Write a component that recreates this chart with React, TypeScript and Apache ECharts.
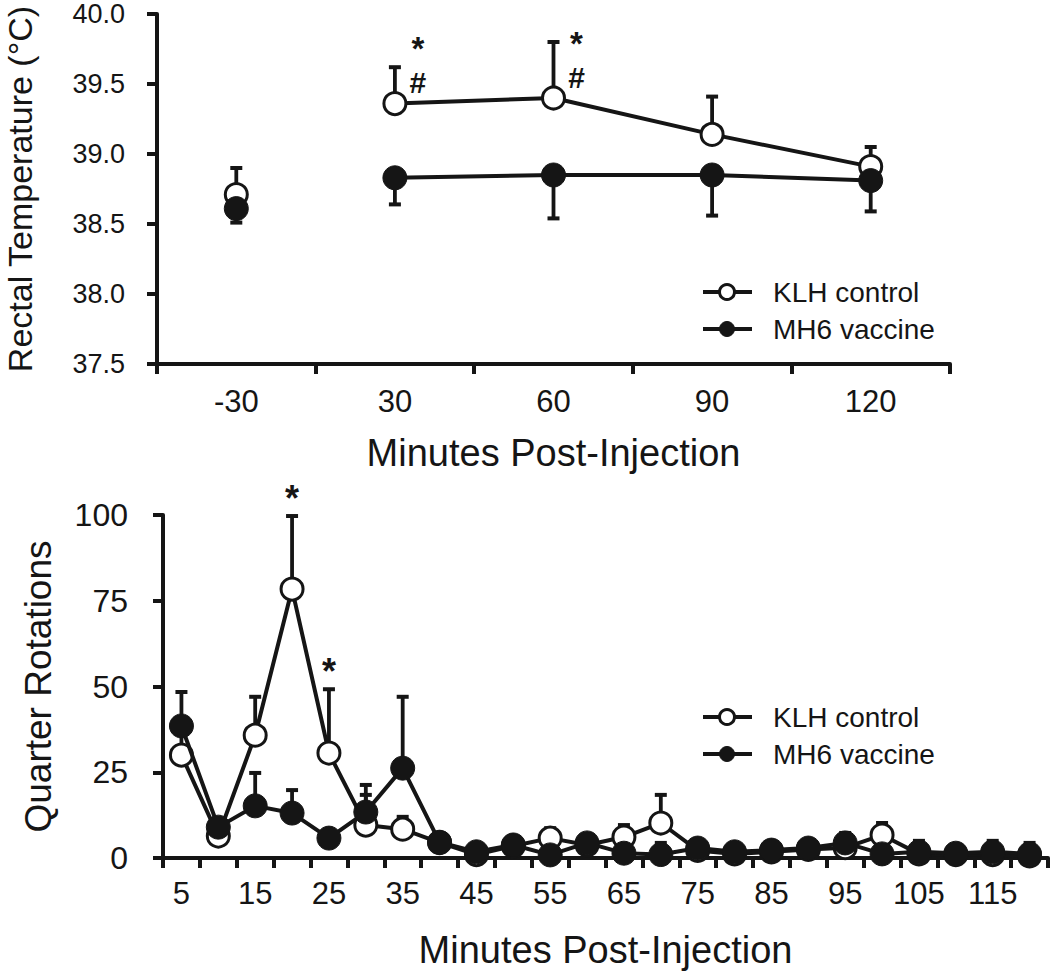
import React, { useEffect, useRef } from "react";
import * as echarts from "echarts";

// ---------- Top panel: rectal temperature ----------
const tempCategories = ["-30", "30", "60", "90", "120"];
const klhTemp = [38.71, 39.36, 39.4, 39.14, 38.91];
const klhTempErr = [0.19, 0.26, 0.4, 0.27, 0.14];
const mh6Temp = [38.61, 38.83, 38.85, 38.85, 38.81];
const mh6TempErr = [0.1, 0.19, 0.31, 0.29, 0.22];
const tempBaselineCats = ["-30"]; // pre-injection point, not joined to the line
const tempSigCats = ["30", "60"]; // "*" and "#"

// ---------- Bottom panel: quarter rotations ----------
const rotCategories = [
  "5", "10", "15", "20", "25", "30", "35", "40", "45", "50", "55", "60",
  "65", "70", "75", "80", "85", "90", "95", "100", "105", "110", "115", "120",
];
const klhRot = [30, 6.4, 35.8, 78.4, 30.6, 9.6, 8.4, 4.5, 1.0, 3.5, 5.8, 3.8, 6.1, 10.2, 2.2, 1.2, 1.8, 2.5, 3.0, 6.7, 1.2, 1.0, 1.0, 0.6];
const klhRotErr = [8, 2, 11.2, 21.3, 18.6, 8.8, 3.6, 1.5, 1, 1, 2.9, 1.5, 3.5, 8.2, 1, 1, 1, 1, 1.5, 3.5, 1, 1, 1, 1];
const mh6Rot = [38.5, 9.0, 15.2, 13.1, 5.8, 13.4, 26.2, 4.6, 1.8, 3.8, 0.9, 4.4, 1.4, 1.0, 2.9, 1.8, 2.3, 2.9, 4.4, 1.2, 1.8, 1.4, 1.8, 1.2];
const mh6RotErr = [9.9, 1.5, 9.6, 6.7, 1.5, 7.9, 20.8, 1.5, 1, 1.5, 1, 1.5, 1.5, 3.4, 1.5, 1, 1, 1.5, 2.9, 2.8, 3.2, 2, 3.2, 3.2];
const rotSigCats = ["20", "25"]; // "*"

const legendNames = ["KLH control", "MH6 vaccine"];

const FONT = "Liberation Sans, Arial, Helvetica, sans-serif";
const INK = "#151515";

function errorBarSeries(xIdx: number, data: number[][], z: number) {
  return {
    type: "custom",
    xAxisIndex: xIdx,
    yAxisIndex: xIdx,
    z,
    silent: true,
    data,
    renderItem: (params: any, api: any) => {
      const c = api.value(0);
      const v = api.value(1);
      const e = api.value(2);
      const dir = api.value(3);
      const p0 = api.coord([c, v]);
      const p1 = api.coord([c, v + dir * e]);
      return {
        type: "group",
        children: [
          {
            type: "line",
            shape: { x1: p0[0], y1: p0[1], x2: p1[0], y2: p1[1] },
            style: { stroke: INK, lineWidth: 3.8 },
          },
          {
            type: "line",
            shape: { x1: p1[0] - 6, y1: p1[1], x2: p1[0] + 6, y2: p1[1] },
            style: { stroke: INK, lineWidth: 4 },
          },
        ],
      };
    },
  };
}

function markerStyle(open: boolean) {
  return open
    ? { color: "#ffffff", borderColor: INK, borderWidth: 3, opacity: 1 }
    : { color: INK, borderColor: INK, borderWidth: 1, opacity: 1 };
}

function lineSeries(name: string, xIdx: number, data: any[], open: boolean, z: number) {
  return {
    name,
    type: "line",
    xAxisIndex: xIdx,
    yAxisIndex: xIdx,
    data,
    z,
    symbol: "circle",
    symbolSize: open ? 22 : 24,
    connectNulls: false,
    lineStyle: { color: INK, width: 4 },
    itemStyle: markerStyle(open),
    emphasis: { disabled: true },
  };
}

function pointSeries(name: string, xIdx: number, data: any[], open: boolean, z: number) {
  return {
    name,
    type: "scatter",
    xAxisIndex: xIdx,
    yAxisIndex: xIdx,
    data,
    z,
    symbol: "circle",
    symbolSize: open ? 22 : 24,
    itemStyle: markerStyle(open),
    emphasis: { disabled: true },
  };
}

function legendGraphic(x: number, y: number) {
  const rows = legendNames.map((n, i) => {
    const yy = y + i * 37;
    const open = i === 0;
    return [
      {
        type: "line",
        shape: { x1: x, y1: yy, x2: x + 49, y2: yy },
        style: { stroke: INK, lineWidth: 4 },
      },
      {
        type: "circle",
        shape: { cx: x + 24, cy: yy, r: 7.5 },
        style: open
          ? { fill: "#ffffff", stroke: INK, lineWidth: 3 }
          : { fill: INK, stroke: INK, lineWidth: 1 },
      },
      {
        type: "text",
        x: x + 70,
        y: yy,
        style: {
          text: n,
          fontSize: 28,
          fontFamily: FONT,
          fill: INK,
          verticalAlign: "middle",
          align: "left",
        },
      },
    ];
  });
  return rows.flat();
}

export default function App() {
  const ref = useRef<HTMLDivElement>(null);

  useEffect(() => {
    if (!ref.current) return;
    const chart = echarts.init(ref.current, undefined, { renderer: "svg" });

    const axisLine = { show: true, lineStyle: { color: INK, width: 4 } };
    const axisTick = { show: true, length: 10, inside: false, lineStyle: { color: INK, width: 4 } };

    const isBase = (i: number) => tempBaselineCats.includes(tempCategories[i]);

    const tempSig = tempSigCats.map((c) => {
      const i = tempCategories.indexOf(c);
      return [i, klhTemp[i]];
    });
    const rotSig = rotSigCats.map((c) => {
      const i = rotCategories.indexOf(c);
      return [i, klhRot[i] + klhRotErr[i]];
    });

    const option: any = {
      animation: false,
      backgroundColor: "#ffffff",
      textStyle: { fontFamily: FONT, color: INK },
      grid: [
        { left: 157, top: 14, width: 793, height: 350, containLabel: false, outerBoundsMode: "none" },
        { left: 163, top: 515, width: 885, height: 343, containLabel: false, outerBoundsMode: "none" },
      ],
      xAxis: [
        {
          type: "category",
          gridIndex: 0,
          data: tempCategories,
          boundaryGap: true,
          axisLine,
          axisTick: { ...axisTick, interval: 0 },
          axisLabel: { fontSize: 31, color: INK, margin: 22, fontFamily: FONT },
          name: "Minutes Post-Injection",
          nameLocation: "middle",
          nameGap: 70,
          nameTextStyle: { fontSize: 38, color: INK, fontFamily: FONT },
          splitLine: { show: false },
        },
        {
          type: "category",
          gridIndex: 1,
          data: rotCategories,
          boundaryGap: true,
          axisLine,
          axisTick: { ...axisTick, interval: 0 },
          axisLabel: { fontSize: 31, color: INK, margin: 20, interval: 1, fontFamily: FONT },
          name: "Minutes Post-Injection",
          nameLocation: "middle",
          nameGap: 73,
          nameTextStyle: { fontSize: 38, color: INK, fontFamily: FONT },
          splitLine: { show: false },
        },
      ],
      yAxis: [
        {
          type: "value",
          gridIndex: 0,
          min: 37.5,
          max: 40,
          interval: 0.5,
          axisLine,
          axisTick,
          axisLabel: {
            fontSize: 27,
            lineHeight: 26,
            color: INK,
            margin: 32,
            fontFamily: FONT,
            formatter: (v: number) => v.toFixed(1),
          },
          splitLine: { show: false },
          name: "Rectal Temperature (°C)",
          nameLocation: "middle",
          nameGap: 120,
          nameRotate: 90,
          nameTextStyle: { fontSize: 34, color: INK, fontFamily: FONT },
        },
        {
          type: "value",
          gridIndex: 1,
          min: 0,
          max: 100,
          interval: 25,
          axisLine,
          axisTick,
          axisLabel: { fontSize: 32, color: INK, margin: 35, fontFamily: FONT },
          splitLine: { show: false },
          name: "Quarter Rotations",
          nameLocation: "middle",
          nameGap: 106,
          nameRotate: 90,
          nameTextStyle: { fontSize: 37, color: INK, fontFamily: FONT },
        },
      ],
      series: [
        // top panel
        errorBarSeries(0, klhTemp.map((v, i) => [i, v, klhTempErr[i], 1]), 1),
        errorBarSeries(0, mh6Temp.map((v, i) => [i, v, mh6TempErr[i], -1]), 1),
        lineSeries(legendNames[0], 0, klhTemp.map((v, i) => (isBase(i) ? "-" : v)), true, 3),
        pointSeries(legendNames[0], 0, klhTemp.map((v, i) => (isBase(i) ? v : "-")), true, 3),
        lineSeries(legendNames[1], 0, mh6Temp.map((v, i) => (isBase(i) ? "-" : v)), false, 4),
        pointSeries(legendNames[1], 0, mh6Temp.map((v, i) => (isBase(i) ? v : "-")), false, 4),
        {
          type: "custom",
          xAxisIndex: 0,
          yAxisIndex: 0,
          z: 5,
          silent: true,
          data: tempSig,
          renderItem: (params: any, api: any) => {
            const p = api.coord([api.value(0), api.value(1)]);
            return {
              type: "group",
              children: [
                {
                  type: "text",
                  x: p[0] + 23,
                  y: p[1] - 55,
                  style: { text: "*", fontSize: 33, fontWeight: "bold", fontFamily: FONT, fill: INK, align: "center", verticalAlign: "middle" },
                },
                {
                  type: "text",
                  x: p[0] + 23,
                  y: p[1] - 21,
                  style: { text: "#", fontSize: 30, fontWeight: "bold", fontFamily: FONT, fill: INK, align: "center", verticalAlign: "middle" },
                },
              ],
            };
          },
        },
        // bottom panel
        errorBarSeries(1, klhRot.map((v, i) => [i, v, klhRotErr[i], 1]), 1),
        errorBarSeries(1, mh6Rot.map((v, i) => [i, v, mh6RotErr[i], 1]), 1),
        lineSeries(legendNames[0], 1, klhRot, true, 3),
        lineSeries(legendNames[1], 1, mh6Rot, false, 4),
        {
          type: "custom",
          xAxisIndex: 1,
          yAxisIndex: 1,
          z: 5,
          silent: true,
          data: rotSig,
          renderItem: (params: any, api: any) => {
            const p = api.coord([api.value(0), api.value(1)]);
            return {
              type: "text",
              x: p[0],
              y: p[1] - 18,
              style: { text: "*", fontSize: 36, fontWeight: "bold", fontFamily: FONT, fill: INK, align: "center", verticalAlign: "middle" },
            };
          },
        },
      ],
      graphic: [...legendGraphic(703, 292), ...legendGraphic(703, 717)],
    };

    chart.setOption(option);
    return () => chart.dispose();
  }, []);

  return (
    <div
      ref={ref}
      style={{ position: "absolute", left: 0, top: 0, width: 1050, height: 978, background: "#fff" }}
    />
  );
}
